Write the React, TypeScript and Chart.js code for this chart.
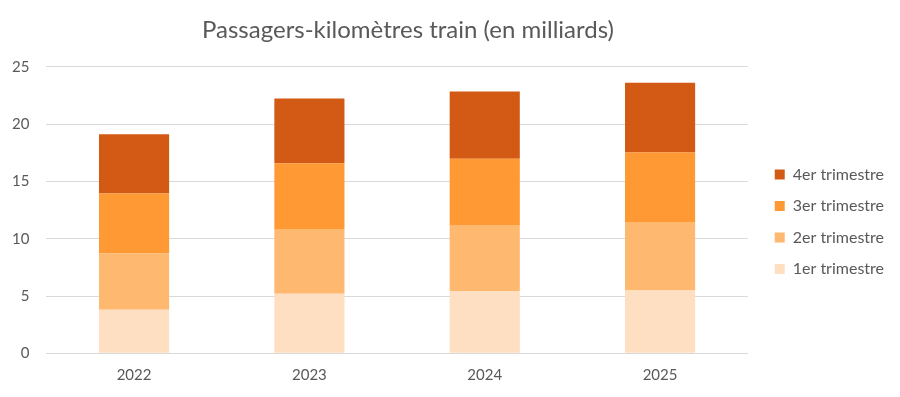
import React, { useEffect, useRef } from "react";
import { Chart, registerables } from "chart.js";

Chart.register(...registerables);

const categories = ["2022", "2023", "2024", "2025"];
const q1 = [3.8, 5.2, 5.43, 5.49];
const q2 = [4.94, 5.64, 5.76, 5.96];
const q3 = [5.21, 5.75, 5.78, 6.07];
const q4 = [5.17, 5.64, 5.87, 6.08];
const seriesLabels = ["1er trimestre", "2er trimestre", "3er trimestre", "4er trimestre"];
const seriesColors = ["#FFDFC2", "#FFB870", "#FF9933", "#D35A15"];
const titleText = "Passagers-kilomètres train (en milliards)";
const yTicks = [0, 5, 10, 15, 20, 25];

const FONT = "Lato, 'DejaVu Sans', sans-serif";

// shifts applied to layout boxes after Chart.js has computed the layout
const shiftPlugin = {
  id: "shiftBoxes",
  afterLayout(chart: any) {
    const t = chart.titleBlock;
    if (t) {
      t.left += -30.75;
      t.right += -30.75;
    }
    const l = chart.legend;
    if (l) {
      l.left += 11.5;
      l.right += 11.5;
      l.top += 19;
      l.bottom += 19;
    }
  },
};

export default function App() {
  const ref = useRef<HTMLCanvasElement | null>(null);
  useEffect(() => {
    if (!ref.current) return;
    const values = [q1, q2, q3, q4];
    const chart = new Chart(ref.current, {
      type: "bar",
      data: {
        labels: categories,
        datasets: values.map((v, i) => ({
          label: seriesLabels[i],
          data: v,
          backgroundColor: seriesColors[i],
          borderWidth: 0,
          barPercentage: 0.4,
          categoryPercentage: 1,
        })),
      },
      plugins: [shiftPlugin],
      options: {
        responsive: false,
        animation: false,
        devicePixelRatio: 1,
        layout: { padding: { left: -5, right: 17.5, top: 8, bottom: -0.3 } },
        plugins: {
          title: {
            display: true,
            text: titleText,
            color: "#595959",
            font: { size: 24, weight: "normal", family: FONT },
            padding: { top: 8, bottom: 22 },
          },
          legend: {
            position: "right",
            reverse: true,
            labels: {
              boxWidth: 10,
              boxHeight: 10,
              padding: 15.5,
              color: "#595959",
              font: { size: 16, family: FONT },
            },
          },
          tooltip: { enabled: false },
        },
        scales: {
          x: {
            stacked: true,
            grid: { display: false, drawTicks: false },
            border: { display: true, color: "#D9D9D9", width: 1 },
            ticks: { color: "#595959", padding: 13, font: { size: 15, family: FONT } },
          },
          y: {
            stacked: true,
            min: 0,
            max: 25,
            afterBuildTicks: (axis: any) => {
              axis.ticks = yTicks.map((v) => ({ value: v }));
            },
            grid: { color: "#D9D9D9", drawTicks: false },
            border: { display: false },
            ticks: { color: "#595959", padding: 17, font: { size: 15, family: FONT } },
          },
        },
      },
    });
    return () => chart.destroy();
  }, []);
  return (
    <div style={{ position: "fixed", left: 0, top: 0, width: 900, height: 397, background: "#fff" }}>
      <canvas ref={ref} width={900} height={397} />
    </div>
  );
}
